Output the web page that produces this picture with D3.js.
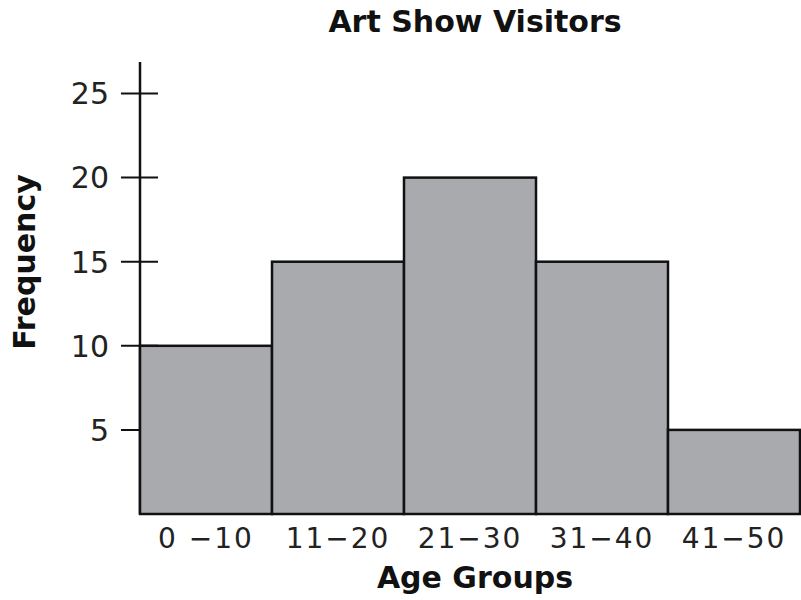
<!DOCTYPE html>
<meta charset="utf-8">
<style>
body { margin: 0; background: #fff; }
svg { font-family: "DejaVu Sans", Verdana, sans-serif; }
.title, .xtitle, .ytitle { font-weight: bold; fill: #111; }
.bar { fill: #a9aaae; stroke: #111; stroke-width: 2.5px; }
</style>
<svg width="801" height="600"></svg>
<script src="https://d3js.org/d3.v7.min.js"></script>
<script>

var ageGroups = ["0 \u221210", "11\u221220", "21\u221230", "31\u221240", "41\u221250"];
var frequency = [10, 15, 20, 15, 5];
var yTicks = [5, 10, 15, 20, 25];

var svg = d3.select("svg");

var x = d3.scaleBand()
    .domain(ageGroups)
    .range([140, 800])
    .padding(0);

var y = d3.scaleLinear()
    .domain([0, 25])
    .range([514, 93.5]);

// y axis line (extends past 25)
svg.append("line")
    .attr("x1", 140).attr("x2", 140)
    .attr("y1", 62).attr("y2", 514)
    .attr("stroke", "#111")
    .attr("stroke-width", 2.5);

// ticks cross the axis
svg.append("g")
  .selectAll("line")
  .data(yTicks)
  .enter().append("line")
    .attr("x1", 121).attr("x2", 158)
    .attr("y1", d => y(d)).attr("y2", d => y(d))
    .attr("stroke", "#111")
    .attr("stroke-width", 2);

svg.append("g")
  .selectAll("text")
  .data(yTicks)
  .enter().append("text")
    .attr("x", 109)
    .attr("y", d => y(d))
    .attr("dy", "0.36em")
    .attr("text-anchor", "end")
    .style("font-size", "30px")
    .style("fill", "#222")
    .text(d => d);

// bars
svg.append("g")
  .selectAll("rect")
  .data(frequency)
  .enter().append("rect")
    .attr("class", "bar")
    .attr("x", (d, i) => x(ageGroups[i]))
    .attr("y", d => y(d))
    .attr("width", x.bandwidth())
    .attr("height", d => y(0) - y(d));

// x labels
svg.append("g")
  .selectAll("text")
  .data(ageGroups)
  .enter().append("text")
    .attr("x", d => x(d) + x.bandwidth() / 2)
    .attr("y", 548)
    .attr("text-anchor", "middle")
    .style("font-size", "28px")
    .style("letter-spacing", "2px")
    .style("fill", "#222")
    .text(d => d);

svg.append("text")
    .attr("class", "title")
    .attr("x", 475)
    .attr("y", 32)
    .attr("text-anchor", "middle")
    .style("font-size", "30px")
    .text("Art Show Visitors");

svg.append("text")
    .attr("class", "xtitle")
    .attr("x", 475)
    .attr("y", 588)
    .attr("text-anchor", "middle")
    .style("font-size", "30px")
    .text("Age Groups");

svg.append("text")
    .attr("class", "ytitle")
    .attr("transform", "translate(35,262) rotate(-90)")
    .attr("text-anchor", "middle")
    .style("font-size", "30px")
    .text("Frequency");

</script>
